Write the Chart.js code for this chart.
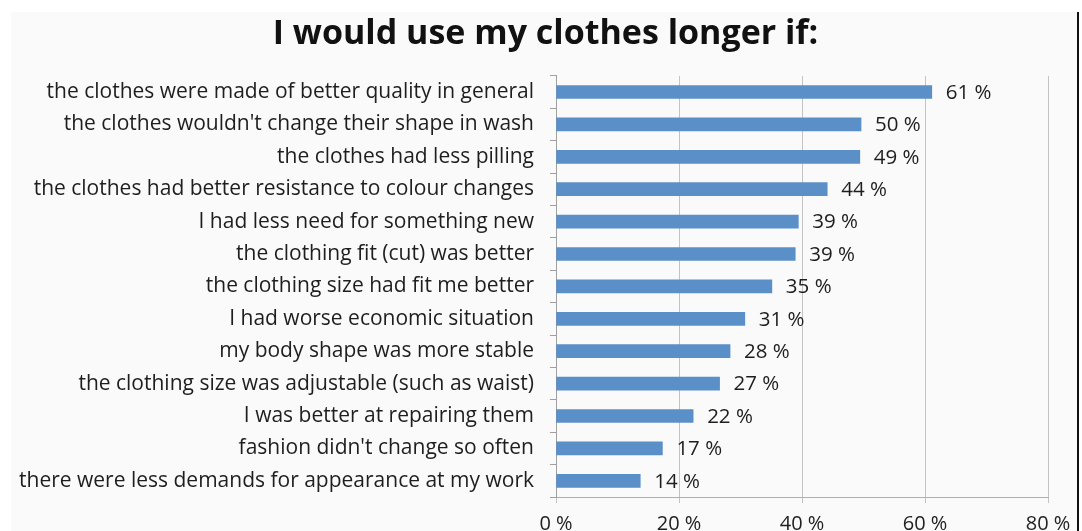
<!DOCTYPE html>
<html>
<head>
<meta charset="utf-8">
<script src="https://cdn.jsdelivr.net/npm/chart.js@4.4.0/dist/chart.umd.min.js"></script>
<style>
    body { margin: 0; background: #fff; }
    #frame {
        position: absolute; left: 11px; top: 12px;
        width: 1066px; height: 519px;
        overflow: hidden;
        background: #fafafa;
        border-right: 2px solid #111;
    }
</style>
</head>
<body>
<div id="frame">
    <canvas id="chart" width="1066" height="545"></canvas>
</div>
<script>
// 数据
var categories = [
    "the clothes were made of better quality in general",
    "the clothes wouldn't change their shape in wash",
    "the clothes had less pilling",
    "the clothes had better resistance to colour changes",
    "I had less need for something new",
    "the clothing fit (cut) was better",
    "the clothing size had fit me better",
    "I had worse economic situation",
    "my body shape was more stable",
    "the clothing size was adjustable (such as waist)",
    "I was better at repairing them",
    "fashion didn't change so often",
    "there were less demands for appearance at my work"
]
var values = [61.1, 49.6, 49.4, 44.1, 39.4, 38.9, 35.1, 30.7, 28.3, 26.6, 22.3, 17.3, 13.7]
var valueLabels = ["61 %", "50 %", "49 %", "44 %", "39 %", "39 %", "35 %", "31 %", "28 %", "27 %", "22 %", "17 %", "14 %"]
var xTicks = [0, 20, 40, 60, 80]

var FONT = "'Open Sans', 'DejaVu Sans', sans-serif"

// 柱子右侧的数值标签
var valueLabelPlugin = {
    id: 'valueLabels',
    afterDatasetsDraw: function (chart) {
        var ctx = chart.ctx
        var meta = chart.getDatasetMeta(0)
        ctx.save()
        ctx.font = "20.5px " + FONT
        ctx.fillStyle = "#1e1e1e"
        ctx.textBaseline = "middle"
        ctx.textAlign = "left"
        meta.data.forEach(function (bar, i) {
            ctx.fillText(valueLabels[i], bar.x + 14, bar.y + 1)
        })
        ctx.restore()
    }
}

// 标题稍微右移
var titleShiftPlugin = {
    id: 'titleShift',
    afterLayout: function (chart) {
        if (chart.titleBlock) {
            chart.titleBlock.left += 16
            chart.titleBlock.right += 16
        }
    }
}

new Chart(document.getElementById('chart').getContext('2d'), {
    type: 'bar',
    data: {
        labels: categories,
        datasets: [{
            data: values,
            backgroundColor: '#5b8fc8',
            borderWidth: 0,
            barThickness: 13
        }]
    },
    options: {
        indexAxis: 'y',
        responsive: false,
        animation: false,
        layout: { padding: { left: 0, right: 29, top: 0, bottom: 0 } },
        plugins: {
            legend: { display: false },
            tooltip: { enabled: false },
            title: {
                display: true,
                text: 'I would use my clothes longer if:',
                color: '#111',
                font: { family: FONT, size: 34, weight: 'bold' },
                padding: { top: 2, bottom: 21 }
            }
        },
        scales: {
            x: {
                min: 0,
                max: 80,
                afterBuildTicks: function (axis) {
                    axis.ticks = xTicks.map(function (v) { return { value: v } })
                },
                afterFit: function (axis) {
                    axis.height = 60
                    axis.paddingLeft = 0
                    axis.paddingRight = 0
                },
                ticks: {
                    color: '#222',
                    font: { family: FONT, size: 20 },
                    padding: 9,
                    callback: function (v) { return v + ' %' }
                },
                grid: { color: '#c4c4c4', tickLength: 6, lineWidth: 1 },
                border: { color: '#b0b0b0' }
            },
            y: {
                afterFit: function (axis) { axis.width = 545 },
                ticks: {
                    color: '#1e1e1e',
                    font: { family: FONT, size: 21 },
                    padding: 16
                },
                grid: { drawOnChartArea: false, tickLength: 6, color: '#a0a0a0' },
                border: { color: '#a0a0a0' }
            }
        }
    },
    plugins: [valueLabelPlugin, titleShiftPlugin]
});
</script>
</body>
</html>
